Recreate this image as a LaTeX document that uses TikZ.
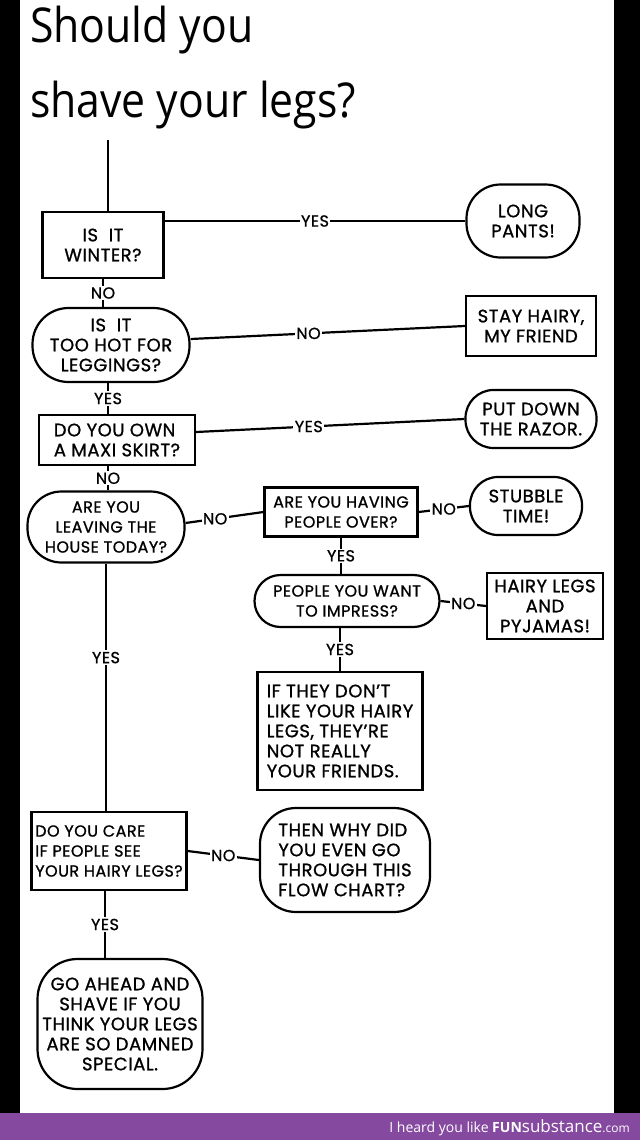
\documentclass[tikz,border=0pt]{standalone}
\usepackage{fontspec}
\setmainfont{Poppins}[FakeBold=1, LetterSpace=3]
\newfontfamily\titlefont[FakeStretch=0.89]{Open Sans}
\newfontfamily\footfont{Open Sans}
\usetikzlibrary{positioning}
\definecolor{funpurple}{RGB}{133,73,160}
\newcommand{\handfont}{\fontsize{18}{20}\selectfont}
\newcommand{\tightfont}{\fontsize{16}{20}\selectfont}
\tikzset{
  qbox/.style={draw, line width=2.2pt, align=center, font=\handfont, inner sep=0pt},
  qoval/.style={qbox, rounded corners=#1},
  qoval/.default=28pt,
  lbl/.style={fill=white, inner sep=1.5pt, font=\fontsize{16}{16}\selectfont},
  link/.style={line width=2.2pt},
}

\begin{document}
\begin{tikzpicture}[x=1pt, y=-1pt]
  \useasboundingbox (0,0) rectangle (640,1140);
  \fill[black] (0,0) rectangle (640,1113);
  \fill[white] (20,0) rectangle (614,1113);
  \fill[funpurple] (0,1113) rectangle (640,1140);

  % title
  \node[anchor=base west, inner sep=0pt, font=\titlefont\fontsize{48}{48}\selectfont] (title1) at (30,43) {Should you};
  \node[anchor=base west, inner sep=0pt, font=\titlefont\fontsize{48}{48}\selectfont] (title2) at (30,117) {shave your legs?};
  \coordinate (start) at (108,140);

  % left column
  \node[qbox, minimum width=121pt, minimum height=66pt] (winter) at (103,245) {IS\ \ IT\\WINTER?};
  \node[qoval=36pt, minimum width=157pt, minimum height=74pt] (hot) at (111,345) {IS\ \ IT\\TOO HOT FOR\\LEGGINGS?};
  \node[qbox, align=left, minimum width=156pt, minimum height=50pt] (maxi) at (117,440) {DO YOU OWN\\A MAXI SKIRT?};
  \node[qoval=34pt, font=\tightfont, minimum width=157pt, minimum height=71pt] (leaving) at (106,527) {ARE YOU\\LEAVING THE\\HOUSE TODAY?};
  \node[qbox, align=left, font=\tightfont, minimum width=155pt, minimum height=78pt] (care) at (109,851) {DO YOU CARE\\IF PEOPLE SEE\\YOUR HAIRY LEGS?};
  \node[qoval=40pt, minimum width=165pt, minimum height=130pt] (ahead) at (120,1024) {GO AHEAD AND\\SHAVE IF YOU\\THINK YOUR LEGS\\ARE SO DAMNED\\SPECIAL.};

  % right column
  \node[qoval=34pt, minimum width=113pt, minimum height=73pt] (pants) at (523,221) {LONG\\PANTS!};
  \node[qbox, minimum width=130pt, minimum height=60pt] (hairy) at (531,326) {STAY HAIRY,\\MY FRIEND};
  \node[qoval=28pt, minimum width=131pt, minimum height=58pt] (razor) at (531,419) {PUT DOWN\\THE RAZOR.};
  \node[qbox, font=\tightfont, minimum width=153pt, minimum height=49pt] (over) at (341,512) {ARE YOU HAVING\\PEOPLE OVER?};
  \node[qoval=28pt, minimum width=112pt, minimum height=58pt] (stubble) at (526,506) {STUBBLE\\TIME!};
  \node[qoval=26pt, font=\tightfont, minimum width=185pt, minimum height=52pt] (impress) at (347,601) {PEOPLE YOU WANT\\TO IMPRESS?};
  \node[qbox, minimum width=116pt, minimum height=66pt] (pyjamas) at (545,606) {HAIRY LEGS\\AND\\PYJAMAS!};
  \node[qbox, align=left, minimum width=165pt, minimum height=118pt] (friends) at (340,731) {IF THEY DON'T\\LIKE YOUR HAIRY\\LEGS, THEY'RE\\NOT REALLY\\YOUR FRIENDS.};
  \node[qoval=36pt, align=left, minimum width=170pt, minimum height=104pt] (why) at (345,860) {THEN WHY DID\\YOU EVEN GO\\THROUGH THIS\\FLOW CHART?};

  % connectors
  \draw[link] (start) -- (start |- winter.north);
  \draw[link] (winter.east |- pants.west) -- node[lbl]{YES} (pants.west);
  \draw[link] (winter.south) -- node[lbl]{NO} (winter.south |- hot.north);
  \draw[link] ([yshift=6pt]hot.east) -- node[lbl, pos=0.43]{NO} (hairy.west);
  \draw[link] (hot.south -| maxi.north) ++(-9,0) coordinate (hm) (hm) -- node[lbl]{YES} (hm |- maxi.north);
  \draw[link] ([yshift=8pt]maxi.east) -- node[lbl, pos=0.42]{YES} (razor.west);
  \draw[link] (maxi.south -| hm) -- node[lbl]{NO} (hm |- leaving.north);
  \draw[link] ([yshift=4pt]leaving.east) -- node[lbl, pos=0.38]{NO} (over.west);
  \draw[link] (over.east) -- node[lbl]{NO} (stubble.west);
  \draw[link] (over.south) -- node[lbl]{YES} (over.south |- impress.north);
  \draw[link] (impress.east) -- node[lbl]{NO} (pyjamas.west);
  \draw[link] (impress.south -| friends.north) -- node[lbl]{YES} (friends.north);
  \draw[link] (leaving.south) -- node[lbl, pos=0.38]{YES} (leaving.south |- care.north);
  \draw[link] (care.east) -- node[lbl]{NO} (why.west);
  \draw[link] (care.south -| ahead.north) ++(-15,0) coordinate (ca) (ca) -- node[lbl]{YES} (ca |- ahead.north);

  % footer
  \node[anchor=base east, text=white, inner sep=0pt, font=\footfont\fontsize{14}{14}\selectfont] (credit) at (630,1132)
    {I heard you like {\bfseries FUN}{\fontsize{17}{17}\selectfont substance}{\fontsize{12}{12}\selectfont .com}};
\end{tikzpicture}
\end{document}
